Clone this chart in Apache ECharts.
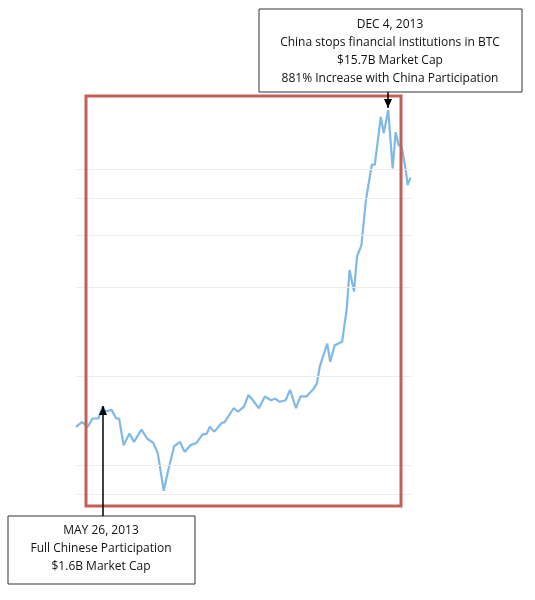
<!DOCTYPE html>
<html>
<head>
<meta charset="utf-8">
<script src="https://cdn.jsdelivr.net/npm/echarts@6/dist/echarts.min.js"></script>
<style>
    html, body { margin: 0; padding: 0; background: #fff; }
    #chart { width: 535px; height: 600px; }
</style>
</head>
<body>
<div id="chart"></div>
<script>
(function() {
    'use strict';
    // 数据: BTC market cap, billions USD (log scale)
    var dates = [
        '2013-05-08', '2013-05-12', '2013-05-16', '2013-05-19', '2013-05-23', '2013-05-26', '2013-05-28', '2013-06-01',
        '2013-06-04', '2013-06-06', '2013-06-09', '2013-06-13', '2013-06-16', '2013-06-21', '2013-06-25', '2013-06-29',
        '2013-07-02', '2013-07-06', '2013-07-09', '2013-07-13', '2013-07-17', '2013-07-20', '2013-07-24', '2013-07-28',
        '2013-08-01', '2013-08-04', '2013-08-06', '2013-08-09', '2013-08-14', '2013-08-16', '2013-08-22', '2013-08-25',
        '2013-08-29', '2013-09-01', '2013-09-04', '2013-09-08', '2013-09-12', '2013-09-16', '2013-09-19', '2013-09-22',
        '2013-09-26', '2013-09-29', '2013-10-03', '2013-10-06', '2013-10-10', '2013-10-15', '2013-10-17', '2013-10-19',
        '2013-10-24', '2013-10-26', '2013-10-29', '2013-11-03', '2013-11-06', '2013-11-08', '2013-11-11', '2013-11-13',
        '2013-11-16', '2013-11-19', '2013-11-23', '2013-11-25', '2013-11-29', '2013-12-01', '2013-12-04', '2013-12-07',
        '2013-12-09', '2013-12-11', '2013-12-13', '2013-12-16', '2013-12-17', '2013-12-19'
    ];
    var marketCap = [
        1.35, 1.40, 1.35, 1.44, 1.44, 1.58, 1.52, 1.54,
        1.44, 1.44, 1.17, 1.28, 1.20, 1.32, 1.23, 1.19,
        1.10, 0.82, 0.96, 1.16, 1.20, 1.11, 1.17, 1.19,
        1.27, 1.28, 1.35, 1.30, 1.39, 1.40, 1.56, 1.52,
        1.58, 1.73, 1.66, 1.56, 1.71, 1.66, 1.68, 1.64,
        1.66, 1.80, 1.56, 1.71, 1.71, 1.82, 1.89, 2.16,
        2.58, 2.24, 2.55, 2.62, 3.35, 4.58, 3.87, 5.08,
        5.56, 7.90, 10.4, 10.4, 15.1, 13.3, 15.9, 10.1,
        13.4, 12.1, 12.0, 9.84, 8.87, 9.4
    ];
    var gridValues = [0.8, 1, 2, 4, 6, 8, 10];
    var topNote = ['DEC 4, 2013', 'China stops financial institutions in BTC', '$15.7B Market Cap', '881% Increase with China Participation'];
    var bottomNote = ['MAY 26, 2013', 'Full Chinese Participation', '$1.6B Market Cap'];

    var font = '"Open Sans", "Noto Sans", sans-serif';
    var chart = echarts.init(document.getElementById('chart'));

    function noteText(lines, cx, y) {
        return {
            type: 'text',
            x: cx,
            y: y,
            z: 20,
            style: {
                text: lines.join('\n'),
                textAlign: 'center',
                fontSize: 12,
                fontFamily: font,
                lineHeight: 18,
                fill: '#111'
            }
        };
    }

    function arrow(x, y1, y2) {
        var dir = y2 > y1 ? -1 : 1;
        return [{
            type: 'line',
            z: 12,
            shape: { x1: x, y1: y1, x2: x, y2: y2 },
            style: { stroke: '#000', lineWidth: 1.5 }
        }, {
            type: 'polygon',
            z: 12,
            shape: { points: [[x, y2], [x - 4, y2 + dir * 9], [x + 4, y2 + dir * 9]] },
            style: { fill: '#000' }
        }];
    }

    var option = {
        animation: false,
        grid: { left: 76, right: 123, top: 95, bottom: 95 },
        xAxis: {
            type: 'time',
            min: '2013-05-08',
            max: '2013-12-20',
            show: false
        },
        yAxis: {
            type: 'log',
            min: 0.734,
            max: 17.9,
            show: false,
            splitLine: { show: false }
        },
        series: [{
            type: 'line',
            showSymbol: false,
            data: dates.map(function(d, i) { return [d, marketCap[i]]; }),
            lineStyle: { color: '#7fb9e6', width: 2.2 },
            markLine: {
                silent: true,
                symbol: 'none',
                label: { show: false },
                lineStyle: { color: '#ececec', type: 'solid', width: 1 },
                data: gridValues.map(function(v) { return { yAxis: v }; })
            },
            z: 3
        }],
        graphic: [{
            type: 'rect',
            z: 10,
            shape: { x: 86, y: 96, width: 315, height: 410 },
            style: { fill: 'none', stroke: '#c55f58', lineWidth: 3 }
        }, {
            type: 'rect',
            z: 11,
            shape: { x: 259, y: 9, width: 263, height: 83 },
            style: { fill: '#fff', stroke: '#333', lineWidth: 1 }
        }, noteText(topNote, 390, 16), {
            type: 'rect',
            z: 11,
            shape: { x: 8, y: 516, width: 187, height: 68 },
            style: { fill: '#fff', stroke: '#333', lineWidth: 1 }
        }, noteText(bottomNote, 101, 522)]
            .concat(arrow(388, 92, 108))
            .concat(arrow(103, 516, 406))
    };

    chart.setOption(option);
})();
</script>
</body>
</html>
